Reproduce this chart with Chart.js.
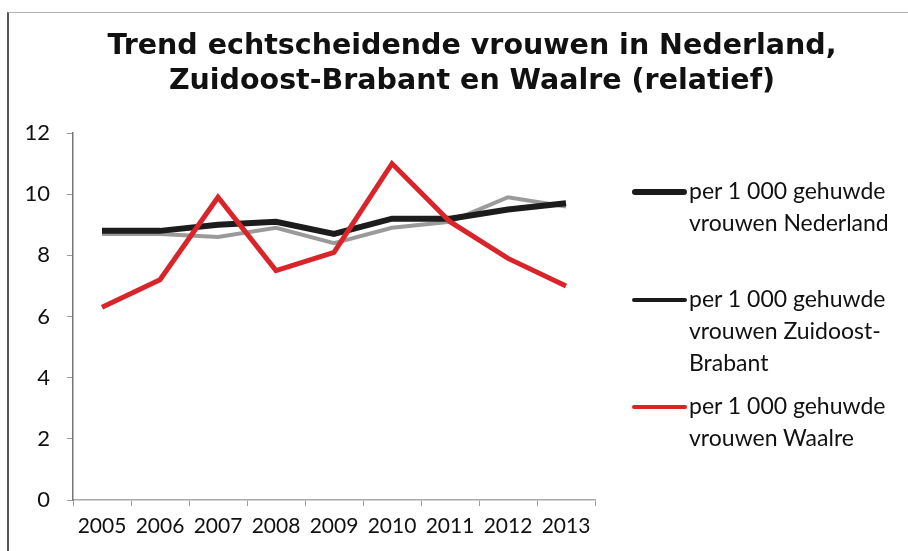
<!DOCTYPE html>
<html>
<head>
<meta charset="utf-8">
<script src="https://cdn.jsdelivr.net/npm/chart.js@4.4.1/dist/chart.umd.min.js"></script>
<style>
  html, body { margin: 0; padding: 0; background: #fff; }
  #wrap { position: relative; width: 908px; height: 551px; overflow: hidden; }
  #kader { position: absolute; left: 7px; top: 12px; right: -4px; bottom: -4px;
           border-left: 2px solid #555; border-top: 1px solid #b5b5b5; }
  #grafiek { position: absolute; left: 0; top: 0; }
  #titel { position: absolute; left: 0; width: 944px; top: 27px; text-align: center;
           font-family: 'DejaVu Sans', sans-serif; font-weight: bold; font-size: 28.5px;
           line-height: 35px; color: #111; }
  #legenda { position: absolute; left: 632px; top: 0; font-family: Lato, sans-serif;
             font-size: 23px; color: #111; line-height: 32px; }
  .item { position: absolute; left: 0; white-space: nowrap; }
  .lijn { position: absolute; left: 0; width: 55px; border-radius: 3px; }
  .tekst { position: absolute; left: 57px; top: 0; }
</style>
</head>
<body>
<div id="wrap">
  <div id="kader"></div>
  <canvas id="grafiek" width="908" height="551"></canvas>
  <div id="titel"></div>
  <div id="legenda"></div>
</div>
<script>
// ============================
// Dados
// ============================
const jaren = ['2005', '2006', '2007', '2008', '2009', '2010', '2011', '2012', '2013'];
const nederland = [8.8, 8.8, 9.0, 9.1, 8.7, 9.2, 9.2, 9.5, 9.7];
const zuidoostBrabant = [8.7, 8.7, 8.6, 8.9, 8.4, 8.9, 9.1, 9.9, 9.6];
const waalre = [6.3, 7.2, 9.9, 7.5, 8.1, 11.0, 9.1, 7.9, 7.0];
const yTicks = [0, 2, 4, 6, 8, 10, 12];

const titel = ['Trend echtscheidende vrouwen in Nederland,', 'Zuidoost-Brabant en Waalre (relatief)'];
const legendaTeksten = [
  ['per 1 000 gehuwde', 'vrouwen Nederland'],
  ['per 1 000 gehuwde', 'vrouwen Zuidoost-', 'Brabant'],
  ['per 1 000 gehuwde', 'vrouwen Waalre']
];

// posições da legenda (topo de cada item) e estilo da amostra
const legendaTop = [174, 282, 389];
const legendaLijn = [
  { kleur: '#1a1a1a', dikte: 6 },
  { kleur: '#1a1a1a', dikte: 4 },
  { kleur: '#d9252a', dikte: 4 }
];

const fonteEixo = { family: 'Lato', size: 21 };

const dataLinha = {
  labels: jaren,
  datasets: [
    {
      label: legendaTeksten[0].join(' '),
      data: nederland,
      borderColor: '#1c1c1c',
      borderWidth: 6,
      pointRadius: 0,
      tension: 0,
      order: 1
    },
    {
      label: legendaTeksten[1].join(' '),
      data: zuidoostBrabant,
      borderColor: '#9a9a9a',
      borderWidth: 4,
      pointRadius: 0,
      tension: 0,
      order: 2
    },
    {
      label: legendaTeksten[2].join(' '),
      data: waalre,
      borderColor: '#d9252a',
      borderWidth: 5,
      pointRadius: 0,
      tension: 0,
      order: 0
    }
  ]
};

const configLinha = {
  type: 'line',
  data: dataLinha,
  options: {
    responsive: false,
    animation: false,
    layout: {
      padding: { left: 20, right: 313, top: 133, bottom: 0 }
    },
    plugins: {
      legend: { display: false },
      tooltip: { enabled: false },
      title: { display: false }
    },
    scales: {
      x: {
        offset: true,
        grid: { offset: true, drawOnChartArea: false, tickLength: 6, color: '#9a9a9a' },
        border: { color: '#a8a8a8', width: 1.5 },
        ticks: { font: fonteEixo, color: '#111', padding: 8, maxRotation: 0, autoSkip: false },
        afterFit: (escala) => { escala.height = 51; }
      },
      y: {
        min: 0,
        max: 12,
        afterBuildTicks: (escala) => { escala.ticks = yTicks.map(v => ({ value: v })); },
        grid: { drawOnChartArea: false, tickLength: 6, color: '#9a9a9a' },
        border: { color: '#777', width: 1.5 },
        ticks: { font: { family: 'Lato', size: 22 }, color: '#111', padding: 17 },
        afterFit: (escala) => { escala.width = 53; }
      }
    }
  }
};

const ctxLinha = document.getElementById('grafiek').getContext('2d');
const grafiekLinha = new Chart(ctxLinha, configLinha);

// titel
document.getElementById('titel').innerHTML = titel.join('<br>');

// ============================
// Legenda em HTML
// ============================
const legendaEl = document.getElementById('legenda');
legendaTeksten.forEach((regels, i) => {
  const item = document.createElement('div');
  item.className = 'item';
  item.style.top = legendaTop[i] + 'px';

  const lijn = document.createElement('div');
  lijn.className = 'lijn';
  lijn.style.background = legendaLijn[i].kleur;
  lijn.style.height = legendaLijn[i].dikte + 'px';
  lijn.style.top = (18 - legendaLijn[i].dikte / 2) + 'px';

  const tekst = document.createElement('div');
  tekst.className = 'tekst';
  tekst.innerHTML = regels.join('<br>');

  item.appendChild(lijn);
  item.appendChild(tekst);
  legendaEl.appendChild(item);
});
</script>
</body>
</html>
